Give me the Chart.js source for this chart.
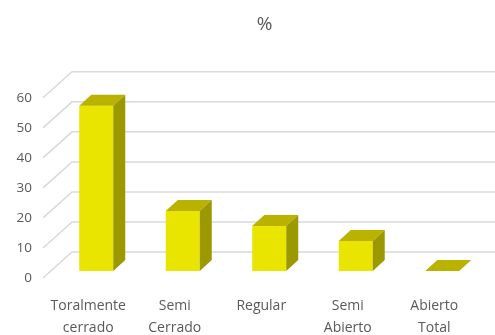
<!DOCTYPE html>
<html>
<head>
<meta charset="utf-8">
<script src="https://cdn.jsdelivr.net/npm/chart.js@4"></script>
<style>
  html, body { margin: 0; padding: 0; background: #fff; }
  #wrap { width: 495px; height: 335px; }
</style>
</head>
<body>
<div id="wrap"><canvas id="chart"></canvas></div>
<script>
const categories = [["Toralmente", "cerrado"], ["Semi", "Cerrado"], "Regular", ["Semi", "Abierto"], ["Abierto", "Total"]];
const values = [55, 20, 15, 10, 0];
const yTicks = [0, 10, 20, 30, 40, 50, 60];

// 3d look: back wall grid + top/side faces of the bars
const depth = { dx: 12, dy: -11 };
const wallBack = { dx: 19, dy: -19 };
const wallFront = { dx: -10, dy: 7 };

const threeD = {
  id: 'threeD',
  beforeDatasetsDraw(chart) {
    const ctx = chart.ctx;
    const area = chart.chartArea;
    const y = chart.scales.y;
    ctx.save();
    ctx.strokeStyle = '#d9d9d9';
    ctx.lineWidth = 1.5;
    for (const t of yTicks) {
      const py = y.getPixelForValue(t);
      ctx.beginPath();
      ctx.moveTo(area.left + wallFront.dx, py + wallFront.dy);
      ctx.lineTo(area.left + wallBack.dx, py + wallBack.dy);
      ctx.lineTo(area.right + wallBack.dx + 20, py + wallBack.dy);
      ctx.stroke();
    }
    ctx.restore();
  },
  afterDatasetsDraw(chart) {
    const ctx = chart.ctx;
    const meta = chart.getDatasetMeta(0);
    ctx.save();
    meta.data.forEach(bar => {
      const { x, y, base, width } = bar.getProps(['x', 'y', 'base', 'width'], true);
      const l = x - width / 2, r = x + width / 2;
      // top face
      ctx.fillStyle = '#b9b300';
      ctx.beginPath();
      ctx.moveTo(l, y);
      ctx.lineTo(l + depth.dx, y + depth.dy);
      ctx.lineTo(r + depth.dx, y + depth.dy);
      ctx.lineTo(r, y);
      ctx.closePath();
      ctx.fill();
      // side face
      if (base - y > 0.5) {
        ctx.fillStyle = '#9c9800';
        ctx.beginPath();
        ctx.moveTo(r, y);
        ctx.lineTo(r + depth.dx, y + depth.dy);
        ctx.lineTo(r + depth.dx, base + depth.dy);
        ctx.lineTo(r, base);
        ctx.closePath();
        ctx.fill();
      }
    });
    ctx.restore();
  }
};

new Chart(document.getElementById('chart'), {
  type: 'bar',
  data: {
    labels: categories,
    datasets: [{
      label: '%',
      data: values,
      backgroundColor: '#e9e500',
      borderWidth: 0,
      categoryPercentage: 1,
      barPercentage: 0.393
    }]
  },
  options: {
    responsive: true,
    maintainAspectRatio: false,
    animation: false,
    // negative right padding pushes the title centre right, spacer axis takes it back
    layout: { padding: { left: 0, right: -34, top: 0, bottom: 0 } },
    plugins: {
      legend: { display: false },
      tooltip: { enabled: false },
      title: {
        display: true,
        text: '%',
        color: '#595959',
        font: { family: 'Open Sans', size: 19, weight: 'normal' },
        padding: { top: 13, bottom: 55 }
      }
    },
    scales: {
      x: {
        grid: { display: false },
        border: { display: false },
        afterFit(s) { s.height = 64; },
        ticks: {
          color: '#595959',
          font: { family: 'Open Sans', size: 14, lineHeight: '22px' },
          padding: 16,
          labelOffset: -8,
          maxRotation: 0,
          autoSkip: false
        }
      },
      y: {
        min: 0,
        max: 60,
        grid: { display: false, drawTicks: false },
        border: { display: false },
        afterFit(s) { s.width = 53; },
        afterBuildTicks(s) { s.ticks = yTicks.map(v => ({ value: v })); },
        ticks: {
          color: '#595959',
          font: { family: 'Open Sans', size: 13.5 },
          padding: 21,
          labelOffset: 7
        }
      },
      spacer: {
        position: 'right',
        min: 0,
        max: 60,
        grid: { display: false, drawTicks: false },
        border: { display: false },
        ticks: { display: false },
        afterFit(s) { s.width = 43.5; }
      }
    }
  },
  plugins: [threeD]
});
</script>
</body>
</html>
